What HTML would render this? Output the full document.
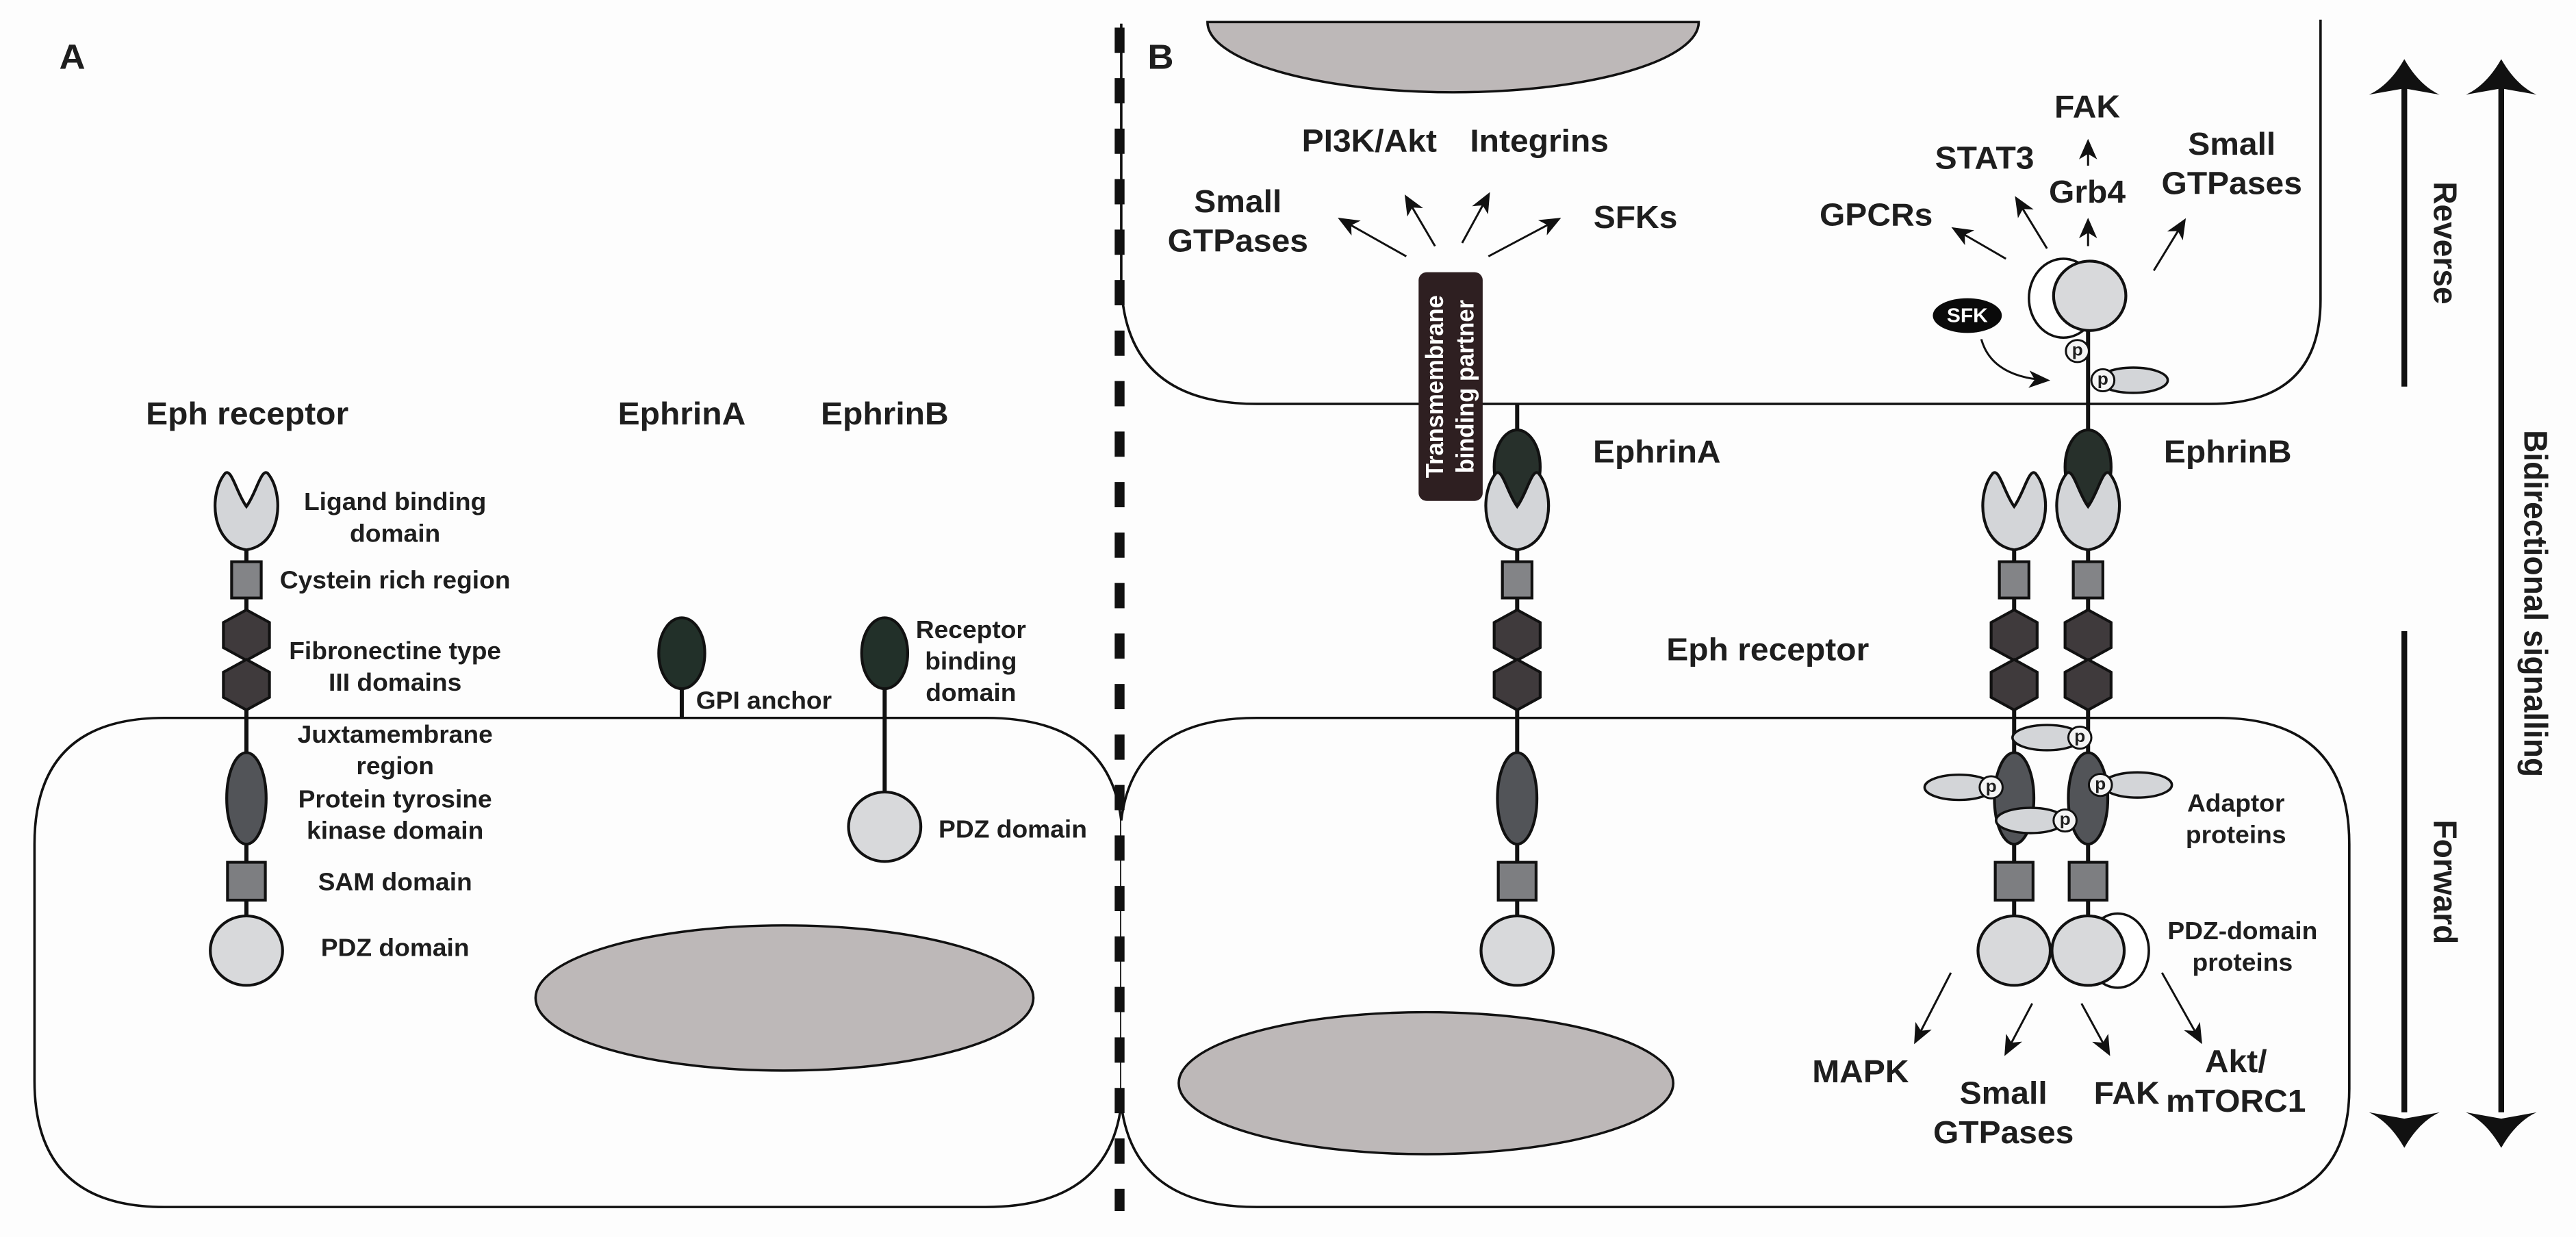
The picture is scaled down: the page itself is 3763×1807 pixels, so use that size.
<!DOCTYPE html>
<html><head><meta charset="utf-8"><style>
html,body{margin:0;padding:0;background:#fdfdfd;}
svg{display:block;}
text{font-family:"Liberation Sans",Arial,sans-serif;font-weight:bold;fill:#1e1e1e;text-anchor:middle;dominant-baseline:central;}
</style></head><body>
<svg width="3763" height="1807" viewBox="0 0 3136 1568" preserveAspectRatio="none" xmlns="http://www.w3.org/2000/svg">
<defs>
<marker id="ah" markerWidth="26" markerHeight="22" refX="22" refY="11" orient="auto" markerUnits="userSpaceOnUse">
<path d="M0,0 L26,11 L0,22 L7,11 Z" fill="#111"/>
</marker>
<g id="rec" stroke="#111" stroke-width="3.5">
<path d="M-26,600 C-46,625 -44,690 0,697 C44,690 46,625 26,600 C18,593 12,625 0,642 C-12,625 -18,593 -26,600Z" fill="#d3d5d8"/>
<rect x="-18" y="712" width="36" height="46" fill="#838487"/>
<polygon points="0,773 28,789 28,821 0,837 -28,821 -28,789" fill="#3f3a3c"/>
<polygon points="0,836 28,852 28,884 0,900 -28,884 -28,852" fill="#3f3a3c"/>
<ellipse cx="0" cy="1012" rx="24" ry="58" fill="#525458"/>
<rect x="-23" y="1093" width="46" height="48" fill="#7d7e81"/>
<circle cx="0" cy="1205" r="44" fill="#d8d9db"/>
</g>
<g id="pp"><circle r="14" fill="#f4f4f4" stroke="#111" stroke-width="2.5"/><text font-size="22" y="-1">p</text></g>
</defs>

<g fill="none" stroke="#111" stroke-width="3">
<path d="M200,910 L1200,910 Q1350,910 1365,1040 L1365,1400 Q1350,1530 1200,1530 L200,1530 Q42,1530 42,1370 L42,1070 Q42,910 200,910Z" fill="#fdfdfd"/>
<path d="M1365,1040 Q1380,910 1530,910 L2700,910 Q2860,910 2860,1070 L2860,1380 Q2860,1530 2700,1530 L1530,1530 Q1380,1530 1365,1400" fill="#fdfdfd"/>
<path d="M1365,30 L1365,360 Q1370,512 1530,512 L2690,512 Q2825,512 2825,380 L2825,25"/>
</g>
<ellipse cx="955" cy="1265" rx="303" ry="92" fill="#bdb8b8" stroke="#111" stroke-width="3"/>
<ellipse cx="1736" cy="1373" rx="301" ry="90" fill="#bdb8b8" stroke="#111" stroke-width="3"/>
<path d="M1470,28 A299 89 0 0 0 2068,28 Z" fill="#bdb8b8" stroke="#111" stroke-width="3"/>
<line x1="1363" y1="35" x2="1363" y2="1535" stroke="#111" stroke-width="12" stroke-dasharray="32 32"/>

<text x="88" y="72" font-size="44">A</text>
<text x="1413" y="72" font-size="44">B</text>

<line x1="300" y1="690" x2="300" y2="1165" stroke="#111" stroke-width="5"/>
<use href="#rec" x="300"/>
<text x="301" y="524" font-size="40">Eph receptor</text>
<text x="830" y="524" font-size="40">EphrinA</text>
<text x="1077" y="524" font-size="40">EphrinB</text>
<g>
<text x="481" y="636" font-size="31">Ligand binding</text>
<text x="481" y="676" font-size="31">domain</text>
<text x="481" y="735" font-size="31">Cystein rich region</text>
<text x="481" y="825" font-size="31">Fibronectine type</text>
<text x="481" y="865" font-size="31">III domains</text>
<text x="481" y="931" font-size="31">Juxtamembrane</text>
<text x="481" y="971" font-size="31">region</text>
<text x="481" y="1013" font-size="31">Protein tyrosine</text>
<text x="481" y="1053" font-size="31">kinase domain</text>
<text x="481" y="1118" font-size="31">SAM domain</text>
<text x="481" y="1201" font-size="31">PDZ domain</text>
<text x="930" y="888" font-size="31">GPI anchor</text>
<text x="1182" y="798" font-size="31">Receptor</text>
<text x="1182" y="838" font-size="31">binding</text>
<text x="1182" y="878" font-size="31">domain</text>
<text x="1233" y="1051" font-size="31">PDZ domain</text>
</g>
<line x1="830" y1="860" x2="830" y2="910" stroke="#111" stroke-width="5"/>
<ellipse cx="830" cy="828" rx="28" ry="45" fill="#223029" stroke="#111" stroke-width="3.5"/>
<line x1="1077" y1="860" x2="1077" y2="1005" stroke="#111" stroke-width="5"/>
<ellipse cx="1077" cy="828" rx="28" ry="45" fill="#223029" stroke="#111" stroke-width="3.5"/>
<circle cx="1077" cy="1048" r="44" fill="#d8d9db" stroke="#111" stroke-width="3.5"/>

<rect x="1727" y="345" width="78" height="290" rx="10" fill="#2e1f21"/>
<g transform="translate(1766,490) rotate(-90)">
<text x="0" y="-19" font-size="30" style="fill:#fff">Transmembrane</text>
<text x="0" y="18" font-size="30" style="fill:#fff">binding partner</text>
</g>
<line x1="1847" y1="512" x2="1847" y2="1165" stroke="#111" stroke-width="5"/>
<ellipse cx="1847" cy="592" rx="28" ry="47" fill="#27302b" stroke="#111" stroke-width="3.5"/>
<use href="#rec" x="1847"/>
<line x1="2452" y1="690" x2="2452" y2="1165" stroke="#111" stroke-width="5"/>
<line x1="2542" y1="375" x2="2542" y2="1165" stroke="#111" stroke-width="5"/>
<ellipse cx="2542" cy="592" rx="28" ry="47" fill="#27302b" stroke="#111" stroke-width="3.5"/>
<use href="#rec" x="2452"/>
<use href="#rec" x="2542"/>
<ellipse cx="2578" cy="1205" rx="38" ry="47" fill="#fff" stroke="#111" stroke-width="3"/>
<circle cx="2542" cy="1205" r="44" fill="#d8d9db" stroke="#111" stroke-width="3.5"/>
<ellipse cx="2512" cy="378" rx="42" ry="50" fill="#fff" stroke="#111" stroke-width="3"/>
<circle cx="2544" cy="375" r="44" fill="#d8d9db" stroke="#111" stroke-width="3.5"/>
<g fill="#d3d5d8" stroke="#111" stroke-width="3">
<ellipse cx="2597" cy="482" rx="42" ry="16"/>
<ellipse cx="2492" cy="935" rx="42" ry="16"/>
<ellipse cx="2385" cy="998" rx="42" ry="16"/>
<ellipse cx="2602" cy="995" rx="42" ry="16"/>
<ellipse cx="2472" cy="1040" rx="42" ry="16"/>
</g>
<use href="#pp" x="2529" y="445"/>
<use href="#pp" x="2560" y="482"/>
<use href="#pp" x="2532" y="935"/>
<use href="#pp" x="2424" y="998"/>
<use href="#pp" x="2557" y="995"/>
<use href="#pp" x="2514" y="1040"/>
<ellipse cx="2395" cy="400" rx="42" ry="22" fill="#0a0a0a"/>
<text x="2395" y="400" font-size="25" style="fill:#fff">SFK</text>
<path d="M2412,430 Q2425,478 2492,482" fill="none" stroke="#111" stroke-width="2.5" marker-end="url(#ah)"/>

<g stroke="#111" stroke-width="2.5" marker-end="url(#ah)">
<line x1="1712" y1="325" x2="1632" y2="278"/>
<line x1="1747" y1="312" x2="1712" y2="250"/>
<line x1="1780" y1="308" x2="1812" y2="247"/>
<line x1="1812" y1="325" x2="1897" y2="278"/>
<line x1="2442" y1="328" x2="2379" y2="290"/>
<line x1="2492" y1="315" x2="2455" y2="252"/>
<line x1="2542" y1="312" x2="2542" y2="280"/>
<line x1="2542" y1="210" x2="2542" y2="180"/>
<line x1="2622" y1="343" x2="2659" y2="280"/>
<line x1="2375" y1="1233" x2="2332" y2="1320"/>
<line x1="2474" y1="1272" x2="2442" y2="1335"/>
<line x1="2534" y1="1272" x2="2567" y2="1335"/>
<line x1="2632" y1="1233" x2="2679" y2="1320"/>
</g>

<g>
<text x="1507" y="255" font-size="40">Small</text>
<text x="1507" y="305" font-size="40">GTPases</text>
<text x="1667" y="178" font-size="40">PI3K/Akt</text>
<text x="1874" y="178" font-size="40">Integrins</text>
<text x="1991" y="275" font-size="40">SFKs</text>
<text x="2284" y="272" font-size="40">GPCRs</text>
<text x="2416" y="200" font-size="40">STAT3</text>
<text x="2541" y="243" font-size="40">Grb4</text>
<text x="2541" y="135" font-size="40">FAK</text>
<text x="2717" y="182" font-size="40">Small</text>
<text x="2717" y="232" font-size="40">GTPases</text>
<text x="2017" y="572" font-size="40">EphrinA</text>
<text x="2712" y="572" font-size="40">EphrinB</text>
<text x="2152" y="823" font-size="40">Eph receptor</text>
<text x="2722" y="1018" font-size="31">Adaptor</text>
<text x="2722" y="1058" font-size="31">proteins</text>
<text x="2730" y="1180" font-size="31">PDZ-domain</text>
<text x="2730" y="1220" font-size="31">proteins</text>
<text x="2265" y="1358" font-size="40">MAPK</text>
<text x="2439" y="1385" font-size="40">Small</text>
<text x="2439" y="1435" font-size="40">GTPases</text>
<text x="2589" y="1385" font-size="40">FAK</text>
<text x="2722" y="1345" font-size="40">Akt/</text>
<text x="2722" y="1395" font-size="40">mTORC1</text>
</g>

<g fill="#111">
<line x1="2927" y1="110" x2="2927" y2="490" stroke="#111" stroke-width="7"/>
<path d="M2927,75 Q2945,108 2970,120 L2927,112 L2884,120 Q2909,108 2927,75Z"/>
<line x1="2927" y1="800" x2="2927" y2="1410" stroke="#111" stroke-width="7"/>
<path d="M2927,1455 Q2945,1422 2970,1410 L2927,1418 L2884,1410 Q2909,1422 2927,1455Z"/>
<line x1="3045" y1="110" x2="3045" y2="1410" stroke="#111" stroke-width="7"/>
<path d="M3045,75 Q3063,108 3088,120 L3045,112 L3002,120 Q3027,108 3045,75Z"/>
<path d="M3045,1455 Q3063,1422 3088,1410 L3045,1418 L3002,1410 Q3027,1422 3045,1455Z"/>
</g>
<text font-size="40" transform="translate(2977,308) rotate(90)">Reverse</text>
<text font-size="40" transform="translate(2977,1118) rotate(90)">Forward</text>
<text font-size="40" transform="translate(3087,765) rotate(90)">Bidirectional signalling</text>
</svg>
</body></html>
